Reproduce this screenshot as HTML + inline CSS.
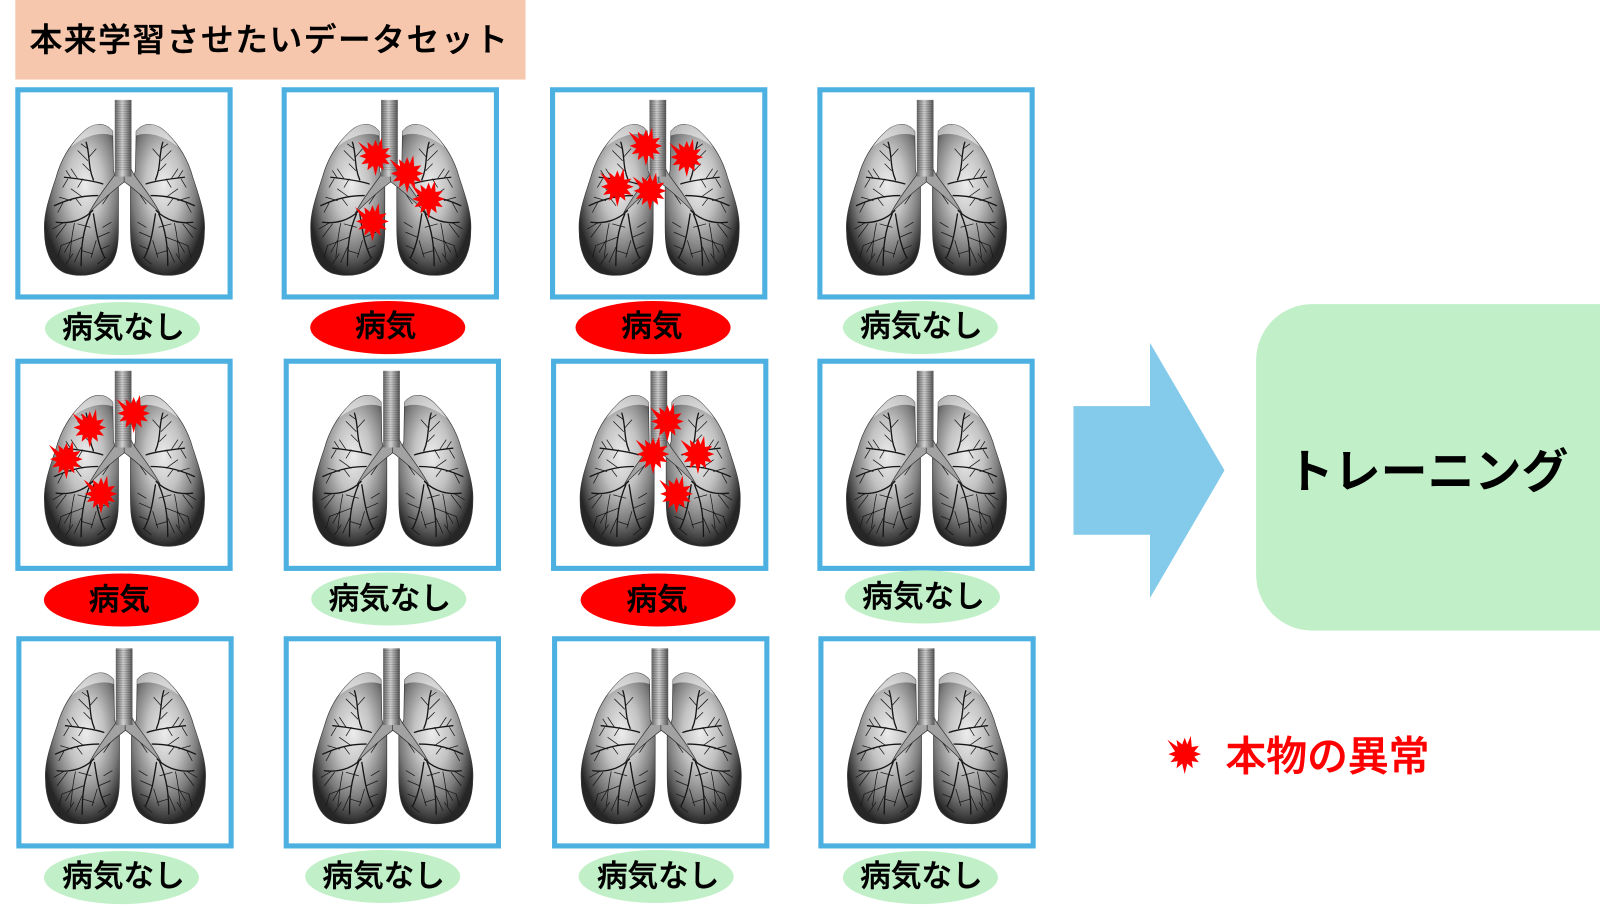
<!DOCTYPE html>
<html lang="ja">
<head>
<meta charset="utf-8">
<title>本来学習させたいデータセット</title>
<style>
html,body{margin:0;padding:0;background:#fff;width:1600px;height:915px;overflow:hidden}
svg{display:block}
text{font-family:"Liberation Sans","Noto Sans CJK JP",sans-serif}
.lab{font-size:30px;font-weight:500;fill:#000;stroke:#000;stroke-width:.45px;text-anchor:middle}
.box{fill:#fff;stroke:#4cb1e1;stroke-width:5}
.g{fill:#c1f0c8}
.r{fill:#ff0000}
.star{fill:#ff0000}
</style>
</head>
<body>
<svg xmlns="http://www.w3.org/2000/svg" width="1600" height="915" viewBox="0 0 1568 896.7">
<defs>
<radialGradient id="lobe" cx="0.55" cy="0.4" r="0.6">
<stop offset="0" stop-color="#ececec"/>
<stop offset="0.4" stop-color="#c2c2c2"/>
<stop offset="0.72" stop-color="#7c7c7c"/>
<stop offset="1" stop-color="#262626"/>
</radialGradient>
<linearGradient id="trach" x1="0" x2="1" y1="0" y2="0">
<stop offset="0" stop-color="#666"/>
<stop offset="0.45" stop-color="#d0d0d0"/>
<stop offset="1" stop-color="#555"/>
</linearGradient>
<pattern id="rings" width="6" height="7" patternUnits="userSpaceOnUse">
<rect width="6" height="2" fill="#000" opacity="0.22"/>
</pattern>
<filter id="soft" x="-5%" y="-5%" width="110%" height="110%"><feGaussianBlur stdDeviation="0.7"/></filter>
<g id="half">
<path d="M330,152 C305,122 268,125 235,160 C200,195 175,235 160,290 C140,350 122,400 125,450 C125,510 145,562 190,578 C240,592 295,582 325,548 C345,522 347,480 347,440 L347,320 L332,270 Z" fill="url(#lobe)" stroke="#3a3a3a" stroke-width="2"/>
<path d="M330,152 C305,122 268,125 235,160 C222,173 212,186 203,200 C240,170 290,150 330,165 Z" fill="#fff" opacity="0.55"/>
<g fill="none" stroke="#161616" stroke-linecap="round">
<g stroke-width="4">
<path d="M300,310 C270,300 230,295 185,290"/>
<path d="M272,298 C255,260 262,220 250,185"/>
<path d="M285,345 C250,345 210,350 155,375"/>
<path d="M270,390 C240,420 200,430 160,425"/>
<path d="M262,400 C240,450 235,500 235,555"/>
<path d="M272,400 C280,450 285,490 305,530"/>
</g>
<g stroke-width="2.2">
<path d="M255,240 L225,210"/><path d="M258,230 L280,205"/><path d="M225,295 L205,265"/>
<path d="M240,295 L225,320"/><path d="M240,350 L205,325"/><path d="M220,355 L235,375"/>
<path d="M215,428 C205,470 205,500 200,530"/><path d="M190,430 L160,470"/><path d="M240,470 L175,495"/>
<path d="M205,360 L170,350"/><path d="M180,367 L165,395"/><path d="M205,480 L185,515"/>
<path d="M285,470 L320,455"/><path d="M295,505 L320,495"/><path d="M237,510 L270,520"/><path d="M235,500 L215,545"/>
<path d="M180,427 L150,445"/><path d="M262,440 L225,430"/><path d="M260,270 L240,250"/><path d="M256,205 L235,190"/>
<path d="M205,293 L190,270"/><path d="M195,295 L180,320"/><path d="M300,440 L325,425"/><path d="M175,495 L165,530"/>
<path d="M210,520 L190,550"/><path d="M280,480 L265,530"/><path d="M320,340 L300,370"/><path d="M310,530 L285,550"/>
</g>
</g>
<path d="M346,262 C338,290 300,320 258,398 C285,372 322,335 366,303 L366,262 Z" fill="#a2a2a2" stroke="#2e2e2e" stroke-width="2"/>
</g>
<g id="lung" filter="url(#soft)">
<use href="#half"/>
<use href="#half" transform="translate(730,0) scale(-1,1)"/>
<rect x="336" y="58" width="50" height="230" fill="url(#trach)"/>
<rect x="336" y="58" width="50" height="215" fill="url(#rings)"/>
</g>
<polygon id="burst" points="16,0 9.4,2.5 13.9,8 6.9,6.9 8,13.9 2.5,9.4 0,19.5 -2.5,9.4 -8,13.9 -6.9,6.9 -13.9,8 -9.4,2.5 -16,0 -9.4,-2.5 -17,-14 -6.9,-6.9 -8,-13.9 -2.5,-9.4 0,-16 2.5,-9.4 6,-18 6.9,-6.9 13.9,-8 9.4,-2.5"/>
</defs>

<rect x="15" y="0" width="500" height="78" fill="#f6c6ad"/>
<text x="29" y="50" font-size="32" font-weight="500" letter-spacing="1.6" fill="#000" stroke="#000" stroke-width=".45">本来学習させたいデータセット</text>

<g transform="translate(15,86)"><rect class="box" x="2.5" y="2" width="208" height="203"/><use href="#lung" transform="translate(-1.5,-.5) scale(.3267) translate(-33,-20)"/></g>
<g transform="translate(276,86)"><rect class="box" x="2.5" y="2" width="208" height="203"/><use href="#lung" transform="translate(-1.5,-.5) scale(.3267) translate(-33,-20)"/></g>
<g transform="translate(539,86)"><rect class="box" x="2.5" y="2" width="208" height="203"/><use href="#lung" transform="translate(-1.5,-.5) scale(.3267) translate(-33,-20)"/></g>
<g transform="translate(801,86)"><rect class="box" x="2.5" y="2" width="208" height="203"/><use href="#lung" transform="translate(-1.5,-.5) scale(.3267) translate(-33,-20)"/></g>
<g transform="translate(15,352)"><rect class="box" x="2.5" y="2" width="208" height="203"/><use href="#lung" transform="translate(-1.5,-1) scale(.3267) translate(-33,-20)"/></g>
<g transform="translate(278,352)"><rect class="box" x="2.5" y="2" width="208" height="203"/><use href="#lung" transform="translate(-1.5,-1) scale(.3267) translate(-33,-20)"/></g>
<g transform="translate(540,352)"><rect class="box" x="2.5" y="2" width="208" height="203"/><use href="#lung" transform="translate(-1.5,-1) scale(.3267) translate(-33,-20)"/></g>
<g transform="translate(801,352)"><rect class="box" x="2.5" y="2" width="208" height="203"/><use href="#lung" transform="translate(-1.5,-1) scale(.3267) translate(-33,-20)"/></g>
<g transform="translate(16,624)"><rect class="box" x="2.5" y="2" width="208" height="203"/><use href="#lung" transform="translate(-1.5,-1) scale(.3267) translate(-33,-20)"/></g>
<g transform="translate(278,624)"><rect class="box" x="2.5" y="2" width="208" height="203"/><use href="#lung" transform="translate(-1.5,-1) scale(.3267) translate(-33,-20)"/></g>
<g transform="translate(541,624)"><rect class="box" x="2.5" y="2" width="208" height="203"/><use href="#lung" transform="translate(-1.5,-1) scale(.3267) translate(-33,-20)"/></g>
<g transform="translate(802,624)"><rect class="box" x="2.5" y="2" width="208" height="203"/><use href="#lung" transform="translate(-1.5,-1) scale(.3267) translate(-33,-20)"/></g>

<g class="star">
<use href="#burst" transform="translate(368,153)"/><use href="#burst" transform="translate(399,170)"/><use href="#burst" transform="translate(420,195)"/><use href="#burst" transform="translate(365,217)"/>
<use href="#burst" transform="translate(633,143)"/><use href="#burst" transform="translate(673,154)"/><use href="#burst" transform="translate(605,183)"/><use href="#burst" transform="translate(637,187)"/>
<use href="#burst" transform="translate(88,419)"/><use href="#burst" transform="translate(131,405)"/><use href="#burst" transform="translate(65,450)"/><use href="#burst" transform="translate(99,484)"/>
<use href="#burst" transform="translate(654,413)"/><use href="#burst" transform="translate(684,445)"/><use href="#burst" transform="translate(640,445)"/><use href="#burst" transform="translate(663,484)"/>
</g>

<g><ellipse class="g" cx="120" cy="322" rx="76" ry="26"/><text class="lab" x="121" y="331">病気なし</text></g>
<g><ellipse class="r" cx="380" cy="321" rx="76" ry="26"/><text class="lab" x="378" y="330">病気</text></g>
<g><ellipse class="r" cx="640" cy="321" rx="76" ry="26"/><text class="lab" x="639" y="330">病気</text></g>
<g><ellipse class="g" cx="902" cy="321" rx="76" ry="26"/><text class="lab" x="903" y="330">病気なし</text></g>
<g><ellipse class="r" cx="119" cy="588" rx="76" ry="26"/><text class="lab" x="117" y="598">病気</text></g>
<g><ellipse class="g" cx="381" cy="587" rx="76" ry="26"/><text class="lab" x="382" y="597">病気なし</text></g>
<g><ellipse class="r" cx="645" cy="588" rx="76" ry="26"/><text class="lab" x="644" y="598">病気</text></g>
<g><ellipse class="g" cx="904" cy="585" rx="76" ry="26"/><text class="lab" x="905" y="595">病気なし</text></g>
<g><ellipse class="g" cx="119" cy="860" rx="76" ry="26"/><text class="lab" x="121" y="869">病気なし</text></g>
<g><ellipse class="g" cx="375" cy="859" rx="76" ry="26"/><text class="lab" x="376" y="869">病気なし</text></g>
<g><ellipse class="g" cx="643" cy="859" rx="76" ry="26"/><text class="lab" x="645" y="869">病気なし</text></g>
<g><ellipse class="g" cx="902" cy="860" rx="76" ry="26"/><text class="lab" x="903" y="869">病気なし</text></g>

<polygon points="1052,398 1127,398 1127,336 1200,461 1127,586 1127,524 1052,524" fill="#83caeb"/>
<rect x="1231" y="298" width="400" height="320" rx="55" ry="55" fill="#c1f0c8"/>
<text x="1399" y="478" font-size="46" font-weight="700" text-anchor="middle" fill="#000">トレーニング</text>

<use href="#burst" class="star" transform="translate(1161,739)"/>
<text x="1201" y="755" font-size="40" font-weight="500" fill="#ff0000" stroke="#ff0000" stroke-width=".5">本物の異常</text>
</svg>
</body>
</html>
